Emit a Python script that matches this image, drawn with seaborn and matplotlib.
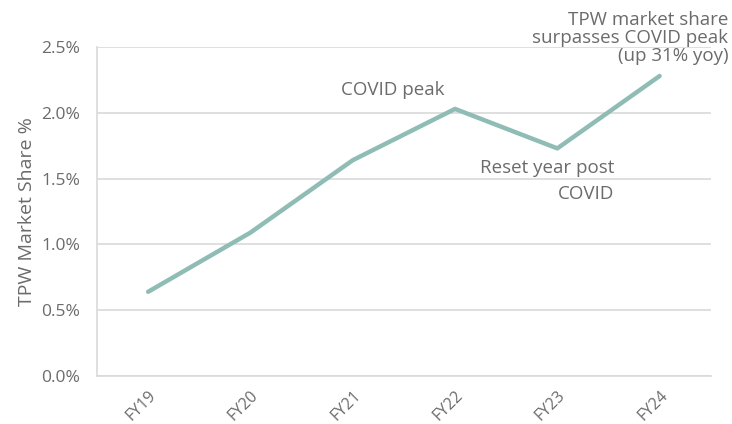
import matplotlib
matplotlib.use("Agg")
import matplotlib.pyplot as plt
import seaborn as sns
import pandas as pd
from matplotlib.ticker import PercentFormatter

years = ["FY19", "FY20", "FY21", "FY22", "FY23", "FY24"]
share = [0.64, 1.09, 1.64, 2.03, 1.73, 2.28]
yticks = [0.0, 0.5, 1.0, 1.5, 2.0, 2.5]

sns.set_theme(style="whitegrid")
plt.rcParams['font.family'] = ['Open Sans', 'DejaVu Sans']

df = pd.DataFrame({"year": years, "share": share})
fig = plt.figure(figsize=(7.32, 4.24), dpi=100)
ax = fig.add_axes([0.1325, 0.1132, 0.8385, 0.7758])

sns.lineplot(data=df, x="year", y="share", ax=ax, color="#8fbcb5", linewidth=3.2, sort=False)

txt = "#6b6b6b"
grid = "#d9d9d9"
ax.set_xlim(-0.5, 5.5)
ax.set_ylim(0, 2.5)
ax.set_yticks(yticks)
ax.yaxis.set_major_formatter(PercentFormatter(decimals=1))
ax.grid(axis="y", color=grid, linewidth=1.2)
ax.grid(axis="x", visible=False)
for s in ["top", "right"]:
    ax.spines[s].set_visible(False)
for s in ["left", "bottom"]:
    ax.spines[s].set_color(grid)
    ax.spines[s].set_linewidth(1.2)
ax.tick_params(axis="y", colors=txt, labelsize=12.5, pad=12, length=0)
ax.tick_params(axis="x", colors=txt, labelsize=11.5, length=0, pad=8)
plt.setp(ax.get_xticklabels(), rotation=45, ha="right", rotation_mode="anchor")
ax.set_xlabel("")
ax.set_ylabel("TPW Market Share %", color=txt, fontsize=14, labelpad=4)

ax.text(2.39, 2.17, "COVID peak", ha="center", va="center", color=txt, fontsize=13.5)
ax.text(4.56, 1.58, "Reset year post", ha="right", va="center", color=txt, fontsize=13.5)
ax.text(4.56, 1.38, "COVID", ha="right", va="center", color=txt, fontsize=13.5)
fig.text(0.995, 0.975, "TPW market share\nsurpasses COVID peak\n(up 31% yoy)", ha="right", va="top",
         multialignment="right", color=txt, fontsize=13.5, linespacing=1.0)

fig.savefig("out.png", dpi=100, facecolor="white")
